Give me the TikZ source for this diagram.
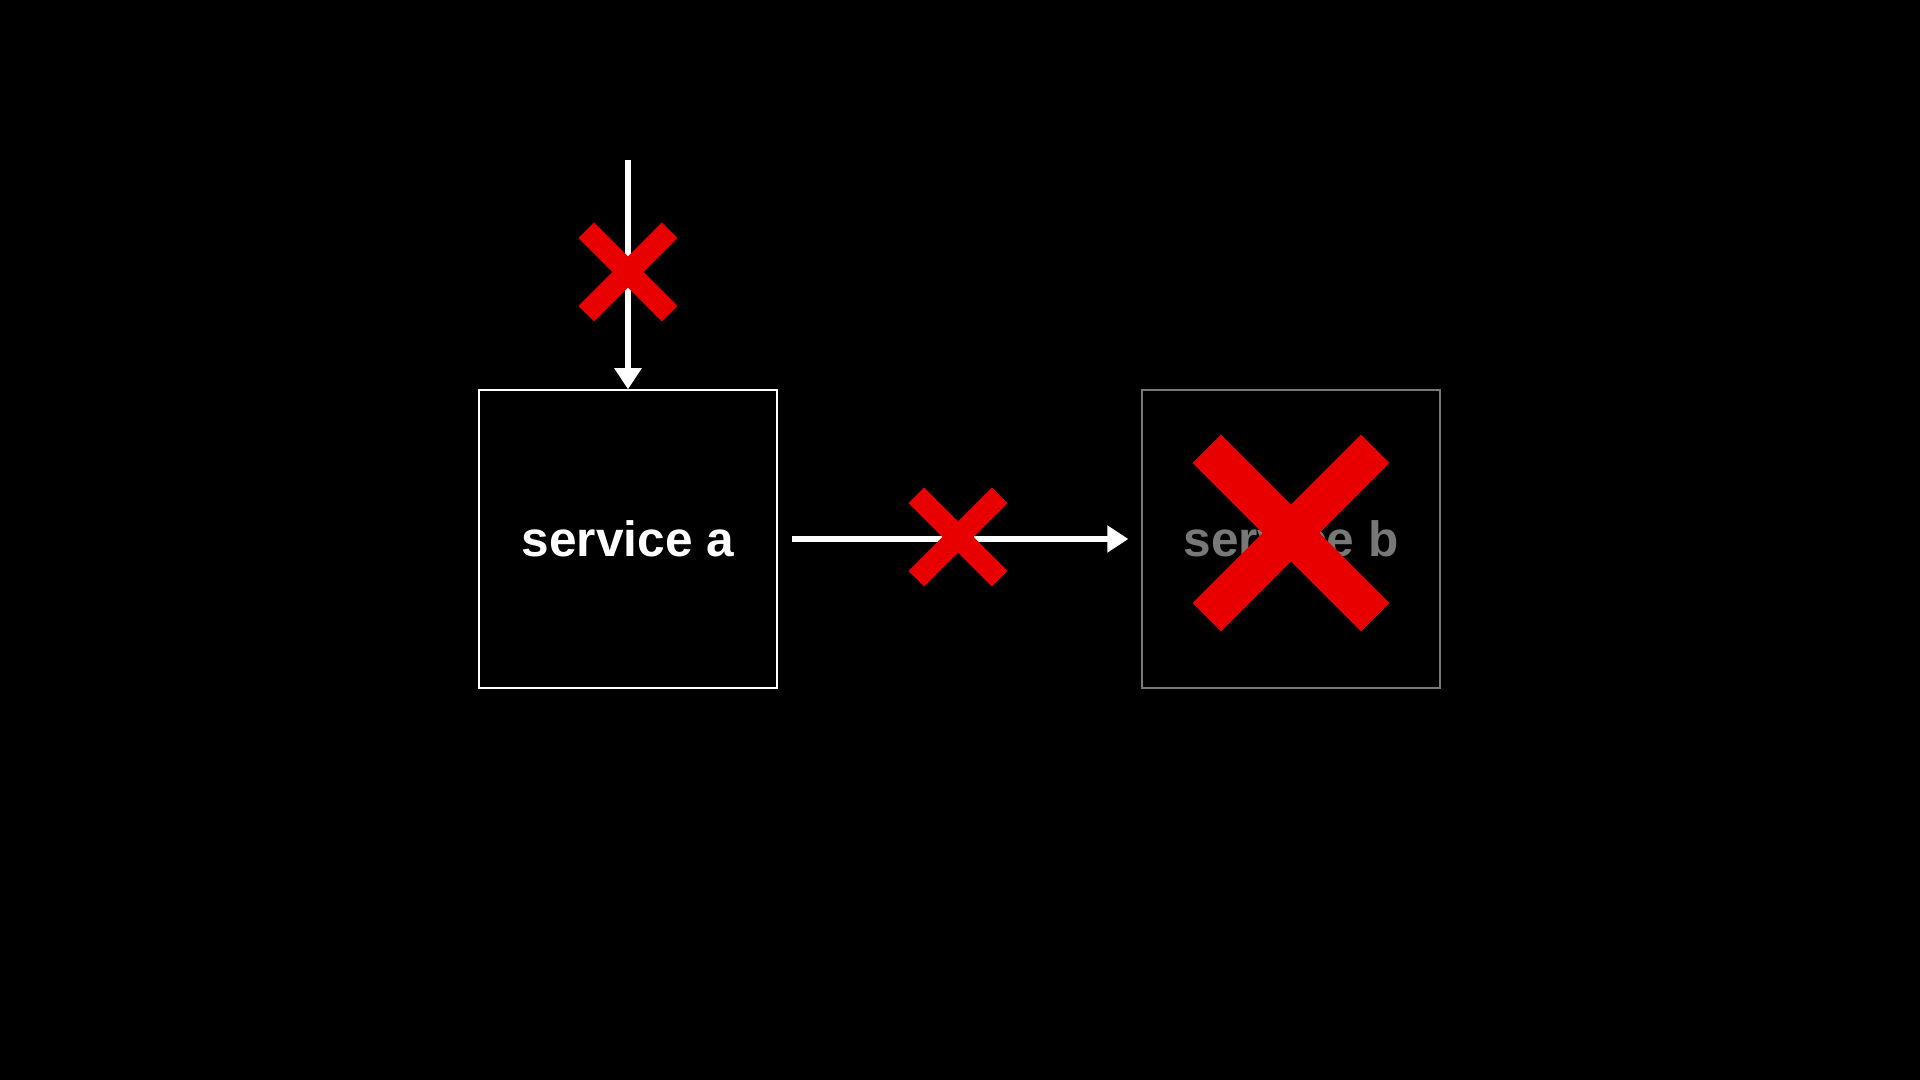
\documentclass[tikz,border=0pt]{standalone}
\usepackage{fontspec}
\setmainfont{Liberation Sans}
\usepackage{tikz}
\usetikzlibrary{positioning, arrows.meta}

\definecolor{xred}{RGB}{232,0,0}
\definecolor{dimgray}{RGB}{120,120,120}

\tikzset{
  svcbox/.style={draw=white, line width=0.6pt, minimum size=2.97cm, inner sep=0pt,
    text=white, font=\fontsize{14.1}{17}\selectfont\bfseries},
  deadbox/.style={svcbox, draw=dimgray, text=dimgray},
  flow/.style={white, line width=1.7pt, -{Triangle[length=6pt, width=7.4pt]}},
}

% red cross: centre, half length, half width
\newcommand{\redx}[3]{%
\begin{scope}[shift={(#1)}, rotate=45]
\fill[xred] (-#2,-#3) rectangle (#2,#3);
\fill[xred] (-#3,-#2) rectangle (#3,#2);
\end{scope}}

\begin{document}
\begin{tikzpicture}[x=0.01cm, y=-0.01cm]
\fill[black] (0,0) rectangle (1920,1080);

\node[svcbox] (a) at (628,539) {service a};
\node[deadbox] (b) at (1291,539) {service b};
\coordinate (src) at (628,160);

\draw[flow] (src) -- (a.north);
\draw[flow] ([xshift=0.14cm]a.east) -- ([xshift=-0.13cm]b.west);

\redx{628,272}{59}{11}
\redx{958,537}{59}{11}
\redx{1291,533}{119}{20}
\end{tikzpicture}
\end{document}
